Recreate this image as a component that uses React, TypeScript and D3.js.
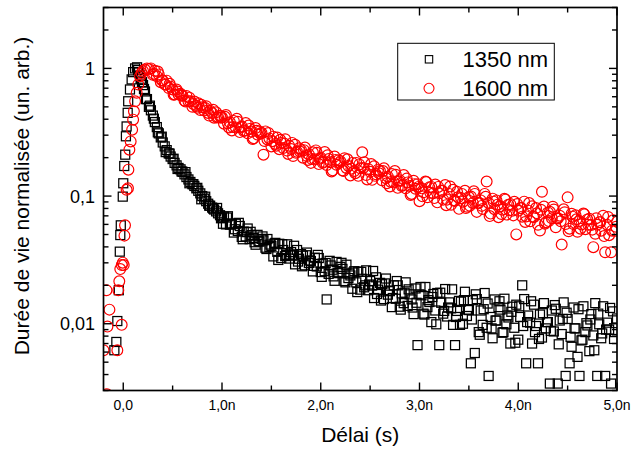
import React from "react";
import * as d3 from "d3";

// ---- data (delay in ns, normalised intensity) ----
const points1350: [number, number][] = [
  [-0.20,0.0021],[-0.18,0.0019],[-0.16,0.0024],[-0.14,0.0018],[-0.12,0.0026],[-0.10,0.0023],
  [-0.09,0.0062],[-0.07,0.0072],[-0.06,0.0105],[-0.045,0.0183],[-0.035,0.0367],[-0.03,0.0495],
  [-0.025,0.059],[-0.005,0.099],[0.0,0.126],[0.01,0.172],[0.02,0.211],[0.027,0.294],[0.034,0.351],
  [0.045,0.449],[0.05,0.553],[0.068,0.684],[0.085,0.82],[0.10,0.935],[0.12,1.0],[0.14,1.02],
  [0.15,0.97],[0.17,0.88],[0.19,0.78],[0.21,0.69],
  [0.16,0.93],[0.18,0.83],[0.20,0.74],[0.22,0.66],[0.24,0.575],[0.26,0.50],[0.28,0.47],[0.30,0.427],
  [0.32,0.38],[0.34,0.347],[0.36,0.31],[0.38,0.288],[0.40,0.263],[0.42,0.245],[0.44,0.229],[0.46,0.216],
  [0.48,0.204],[0.50,0.195],[0.52,0.182],[0.54,0.174],[0.56,0.166],[0.58,0.162],[0.60,0.155],[0.62,0.148],
  [0.64,0.141],[0.66,0.135],[0.68,0.129],[0.70,0.124],[0.72,0.12],[0.74,0.115],[0.76,0.11],[0.78,0.105],
  [0.80,0.1],[0.82,0.0955],[0.84,0.0912],[0.86,0.0871],[0.88,0.0841],[0.90,0.0813],[0.92,0.0785],
  [0.94,0.0759],[0.96,0.0733],[0.98,0.0708],[1.00,0.0676],
  [1.02,0.069],[1.04,0.060],[1.06,0.0695],[1.08,0.0597],[1.10,0.0603],[1.12,0.0518],[1.14,0.0607],
  [1.16,0.0533],[1.18,0.0583],[1.20,0.0479],[1.22,0.0527],[1.24,0.0483],[1.26,0.0557],[1.28,0.046],
  [1.30,0.0495],[1.32,0.047],[1.34,0.0416],[1.36,0.0497],[1.38,0.044],[1.40,0.0462],[1.42,0.045],
  [1.44,0.0394],[1.46,0.0461],[1.48,0.04],[1.50,0.0407],[1.52,0.0337],[1.54,0.043],[1.56,0.0366],
  [1.58,0.0423],[1.60,0.0327],[1.62,0.0378],[1.64,0.0339],[1.66,0.0419],[1.68,0.0324],[1.70,0.0364],
  [1.72,0.0342],[1.74,0.0292],[1.76,0.0378],[1.78,0.0323],[1.80,0.0351],[1.82,0.0341],[1.84,0.0287],
  [1.86,0.0361],[1.88,0.0299],[1.90,0.031],[1.92,0.0257],[1.94,0.0329],[1.96,0.0281],[1.98,0.0327],
  [2.00,0.0254],[2.02,0.0296],[2.04,0.0258],[2.06,0.0155],[2.08,0.0246],[2.10,0.0286],[2.12,0.0265],
  [2.14,0.0217],[2.16,0.0305],[2.18,0.0249],[2.20,0.0279],[2.22,0.0269],[2.24,0.0216],[2.26,0.029],
  [2.28,0.0228],[2.30,0.0239],[2.32,0.0188],[2.34,0.0258],[2.36,0.0211],[2.38,0.0256],[2.40,0.0185],
  [2.42,0.0225],[2.44,0.0193],[2.46,0.0262],[2.48,0.0183],[2.50,0.0216],[2.52,0.0199],[2.54,0.0159],
  [2.56,0.0231],[2.58,0.0185],[2.60,0.0209],[2.62,0.0204],[2.64,0.0156],[2.66,0.0226],[2.68,0.0169],
  [2.70,0.018],[2.72,0.0135],[2.74,0.02],[2.76,0.0157],[2.78,0.02],[2.80,0.0136],[2.82,0.0173],
  [2.84,0.0145],[2.86,0.0211],[2.88,0.0138],[2.90,0.017],[2.92,0.0155],[2.94,0.0119],[2.96,0.0189],
  [2.98,0.0068],[3.00,0.017],[3.02,0.0167],[3.04,0.012],[3.06,0.0194],[3.08,0.0135],[3.10,0.0148],
  [3.12,0.0103],[3.14,0.0171],[3.16,0.0127],[3.18,0.0174],[3.20,0.0068],[3.22,0.0146],[3.24,0.012],
  [3.26,0.0187],[3.28,0.0114],[3.30,0.0147],[3.32,0.0132],[3.34,0.0098],[3.36,0.0068],[3.38,0.0126],
  [3.40,0.0151],[3.42,0.0149],[3.44,0.01],[3.46,0.0178],[3.48,0.0115],[3.50,0.0128],[3.52,0.0049],
  [3.54,0.0153],[3.56,0.0059],[3.58,0.0156],[3.60,0.0086],[3.62,0.0127],[3.64,0.0098],[3.66,0.0174],
  [3.68,0.0093],[3.70,0.0039],[3.72,0.0113],[3.74,0.0077],[3.76,0.0155],[3.78,0.0106],[3.80,0.0135],
  [3.82,0.0129],[3.84,0.0085],[3.86,0.0157],[3.88,0.0099],[3.90,0.0112],[3.92,0.007],[3.94,0.0136],
  [3.96,0.0093],[3.98,0.0141],[4.00,0.0075],[4.02,0.0113],[4.04,0.02],[4.06,0.0156],[4.08,0.0049],
  [4.10,0.0116],[4.12,0.0102],[4.14,0.007],[4.16,0.0141],[4.18,0.0096],[4.20,0.0049],[4.22,0.0118],
  [4.24,0.0078],[4.26,0.0145],[4.28,0.0092],[4.30,0.0103],[4.32,0.0034],[4.34,0.0127],[4.36,0.0087],
  [4.38,0.0131],[4.40,0.0034],[4.42,0.0106],[4.44,0.0083],[4.46,0.0147],[4.48,0.0039],[4.50,0.0109],
  [4.52,0.0049],[4.54,0.0066],[4.56,0.0134],[4.58,0.0092],[4.60,0.0055],[4.62,0.0039],[4.64,0.0074],
  [4.66,0.0137],[4.68,0.0086],[4.70,0.0097],[4.72,0.0061],[4.74,0.0119],[4.76,0.0081],[4.78,0.0145],
  [4.80,0.0039],[4.82,0.0099],[4.84,0.0077],[4.86,0.0137],[4.88,0.0039],[4.90,0.0102],[4.92,0.009],
  [4.94,0.0034],[4.96,0.0125],[4.98,0.0086],[5.00,0.011]
];

// interleaved acquisitions (second pass) of the 1350 nm trace
const points1350Interleaved: [number, number][] = [
  [0.23,0.575],[0.27,0.511],[0.31,0.404],[0.35,0.316],[0.39,0.292],[0.43,0.221],[0.47,0.215],[0.51,0.196],
  [0.55,0.163],[0.59,0.156],[0.63,0.154],[0.67,0.126],[0.71,0.124],[0.75,0.116],[0.79,0.0944],[0.83,0.0989],
  [0.87,0.0841],[0.91,0.0798],[0.95,0.0807],[0.99,0.067],
  [1.01,0.0607],[1.05,0.0679],[1.09,0.0611],[1.13,0.055],[1.17,0.0617],[1.21,0.0459],[1.25,0.0522],
  [1.29,0.0525],[1.33,0.0435],[1.37,0.0443],[1.41,0.0483],[1.45,0.0385],[1.49,0.0417],[1.53,0.0424],
  [1.57,0.0316],[1.61,0.042],[1.65,0.0346],[1.69,0.0349],[1.73,0.0408],[1.77,0.0307],[1.81,0.0282],
  [1.85,0.0344],[1.89,0.0313],[1.93,0.0284],[1.97,0.0346],[2.01,0.0233],[2.05,0.0299],[2.09,0.0311],
  [2.13,0.0235],[2.17,0.0251],[2.21,0.03],[2.25,0.0211],[2.29,0.0247],[2.33,0.0252],[2.37,0.0177],
  [2.41,0.0255],[2.45,0.02],[2.49,0.0203],[2.53,0.0259],[2.57,0.0171],[2.61,0.0152],[2.65,0.0207],
  [2.69,0.0182],[2.73,0.0159],[2.77,0.0216],[2.81,0.0129],[2.85,0.0175],[2.89,0.0186],[2.93,0.0134],
  [2.97,0.0146],[3.01,0.0194],[3.05,0.0118],[3.09,0.0153],[3.13,0.0162],[3.17,0.0099],[3.21,0.0175],
  [3.25,0.0126],[3.29,0.0134],[3.33,0.0186],[3.37,0.0113],[3.41,0.0098],[3.45,0.0153],[3.49,0.0129],
  [3.53,0.0108],[3.57,0.017],[3.61,0.0082],[3.65,0.013],[3.69,0.0144],[3.73,0.0092],[3.77,0.0106],
  [3.81,0.015],[3.85,0.0086],[3.89,0.0116],[3.93,0.0124],[3.97,0.0071],[4.01,0.0137],[4.05,0.0096],
  [4.09,0.0103],[4.13,0.015],[4.17,0.0086],[4.21,0.0076],[4.25,0.0121],[4.29,0.0103],[4.33,0.0088],
  [4.37,0.014],[4.41,0.0069],[4.45,0.0109],[4.49,0.0122],[4.53,0.0079],[4.57,0.0092],[4.61,0.013],
  [4.65,0.0075],[4.69,0.0101],[4.73,0.0108],[4.77,0.0062],[4.81,0.012],[4.85,0.0084],[4.89,0.009],
  [4.93,0.0133],[4.97,0.0076]
];

const points1600: [number, number][] = [
  [-0.20,0.0062],[-0.18,0.0021],[-0.17,0.0183],[-0.165,0.0028],[-0.16,0.0095],[-0.14,0.0129],
  [-0.12,0.0024],[-0.10,0.0020],[-0.08,0.0026],[-0.06,0.0062],[-0.05,0.0183],[-0.04,0.0215],
  [-0.03,0.0268],[-0.016,0.0098],[-0.015,0.0288],[-0.005,0.0301],[0.005,0.0288],[0.012,0.049],
  [0.018,0.059],[0.034,0.112],[0.048,0.115],[0.052,0.161],[0.062,0.231],[0.075,0.268],[0.09,0.331],
  [0.10,0.397],[0.108,0.461],[0.12,0.553],[0.136,0.644],[0.152,0.748],[0.17,0.87],[0.185,0.92],
  [0.20,0.955],[0.22,0.98],[0.24,1.0],[0.26,0.99],[0.28,1.0],
  [0.30,0.891],[0.32,0.959],[0.34,0.869],[0.36,0.898],[0.38,0.78],[0.40,0.805],[0.42,0.75],[0.44,0.802],
  [0.46,0.702],[0.48,0.72],[0.50,0.684],[0.52,0.625],[0.54,0.684],[0.56,0.625],[0.58,0.634],[0.60,0.612],
  [0.62,0.56],[0.64,0.608],[0.66,0.552],[0.68,0.552],[0.70,0.501],[0.72,0.55],[0.74,0.507],[0.76,0.533],
  [0.78,0.472],[0.80,0.497],[0.82,0.468],[0.84,0.506],[0.86,0.448],[0.88,0.465],[0.90,0.447],[0.92,0.411],
  [0.94,0.453],[0.96,0.417],[0.98,0.426],[1.00,0.414],
  [1.02,0.369],[1.04,0.431],[1.06,0.372],[1.08,0.378],[1.10,0.327],[1.12,0.388],[1.14,0.345],[1.16,0.382],
  [1.18,0.317],[1.20,0.351],[1.22,0.323],[1.24,0.374],[1.26,0.31],[1.28,0.336],[1.30,0.32],[1.32,0.284],
  [1.34,0.341],[1.36,0.303],[1.38,0.321],[1.40,0.313],[1.42,0.211],[1.44,0.321],[1.46,0.278],[1.48,0.283],
  [1.50,0.245],[1.52,0.292],[1.54,0.256],[1.56,0.287],[1.58,0.233],[1.60,0.261],[1.62,0.238],[1.64,0.279],
  [1.66,0.227],[1.68,0.248],[1.70,0.234],[1.72,0.206],[1.74,0.252],[1.76,0.222],[1.78,0.237],[1.80,0.23],
  [1.82,0.2],[1.84,0.24],[1.86,0.206],[1.88,0.212],[1.90,0.182],[1.92,0.22],[1.94,0.194],[1.96,0.218],
  [1.98,0.178],[2.00,0.2],[2.02,0.182],[2.04,0.221],[2.06,0.175],[2.08,0.195],[2.10,0.184],[2.12,0.159],
  [2.14,0.204],[2.16,0.176],[2.18,0.191],[2.20,0.187],[2.22,0.159],[2.24,0.198],[2.26,0.166],[2.28,0.172],
  [2.30,0.145],[2.32,0.182],[2.34,0.157],[2.36,0.182],[2.38,0.144],[2.40,0.165],[2.42,0.22],[2.44,0.184],
  [2.46,0.146],[2.48,0.163],[2.50,0.155],[2.52,0.134],[2.54,0.171],[2.56,0.148],[2.58,0.161],[2.60,0.157],
  [2.62,0.133],[2.64,0.165],[2.66,0.138],[2.68,0.142],[2.70,0.119],[2.72,0.149],[2.74,0.128],[2.76,0.147],
  [2.78,0.116],[2.80,0.133],[2.82,0.12],[2.84,0.146],[2.86,0.115],[2.88,0.128],[2.90,0.12],[2.92,0.104],
  [2.94,0.132],[2.96,0.114],[2.98,0.124],[3.00,0.0912],[3.02,0.115],[3.04,0.107],[3.06,0.13],[3.08,0.0979],
  [3.10,0.117],[3.12,0.118],[3.14,0.105],[3.16,0.123],[3.18,0.0893],[3.20,0.105],[3.22,0.11],[3.24,0.0938],
  [3.26,0.122],[3.28,0.0938],[3.30,0.104],[3.32,0.0855],[3.34,0.112],[3.36,0.092],[3.38,0.108],[3.40,0.0794],
  [3.42,0.0964],[3.44,0.0904],[3.46,0.11],[3.48,0.0824],[3.50,0.0982],[3.52,0.0993],[3.54,0.0883],
  [3.56,0.104],[3.58,0.0752],[3.60,0.0881],[3.62,0.0925],[3.64,0.0792],[3.66,0.104],[3.68,0.13],
  [3.70,0.0883],[3.72,0.0729],[3.74,0.0955],[3.76,0.0789],[3.78,0.0925],[3.80,0.0684],[3.82,0.0832],
  [3.84,0.0782],[3.86,0.0951],[3.88,0.0716],[3.90,0.0855],[3.92,0.0865],[3.94,0.0769],[3.96,0.0902],
  [3.98,0.0501],[4.00,0.0767],[4.02,0.0805],[4.04,0.069],[4.06,0.0904],[4.08,0.0693],[4.10,0.0769],
  [4.12,0.0635],[4.14,0.0832],[4.16,0.0687],[4.18,0.0805],[4.20,0.0596],[4.22,0.0537],[4.24,0.108],
  [4.26,0.0828],[4.28,0.0624],[4.30,0.0745],[4.32,0.0753],[4.34,0.067],[4.36,0.0785],[4.38,0.057],
  [4.40,0.0668],[4.42,0.0702],[4.44,0.0417],[4.46,0.0787],[4.48,0.0604],[4.50,0.0977],[4.52,0.0555],
  [4.54,0.0728],[4.56,0.0603],[4.58,0.0708],[4.60,0.0525],[4.62,0.0638],[4.64,0.06],[4.66,0.073],
  [4.68,0.055],[4.70,0.0656],[4.72,0.0665],[4.74,0.0593],[4.76,0.0398],[4.78,0.0507],[4.80,0.0596],
  [4.82,0.0625],[4.84,0.0536],[4.86,0.0702],[4.88,0.0363],[4.90,0.0597],[4.92,0.0494],[4.94,0.0363],
  [4.96,0.0646],[4.98,0.0535],[5.00,0.0628]
];

// interleaved acquisitions (second pass) of the 1600 nm trace
const points1600Interleaved: [number, number][] = [
  [0.31,0.908],[0.35,0.944],[0.39,0.809],[0.43,0.746],[0.47,0.757],[0.51,0.622],[0.55,0.659],[0.59,0.614],
  [0.63,0.55],[0.67,0.59],[0.71,0.527],[0.75,0.492],[0.79,0.519],[0.83,0.489],[0.87,0.427],[0.91,0.475],
  [0.95,0.413],[0.99,0.41],[1.03,0.418],[1.07,0.345],[1.11,0.347],[1.15,0.403],[1.19,0.345],[1.23,0.327],
  [1.27,0.357],[1.31,0.28],[1.35,0.325],[1.39,0.308],[1.43,0.27],[1.47,0.312],[1.51,0.269],[1.55,0.248],
  [1.59,0.276],[1.63,0.258],[1.67,0.214],[1.71,0.261],[1.75,0.218],[1.79,0.223],[1.83,0.229],[1.87,0.192],
  [1.91,0.195],[1.95,0.228],[1.99,0.196],[2.03,0.185],[2.07,0.209],[2.11,0.156],[2.15,0.192],[2.19,0.182],
  [2.23,0.157],[2.27,0.194],[2.31,0.164],[2.35,0.151],[2.39,0.177],[2.43,0.166],[2.47,0.135],[2.51,0.178],
  [2.55,0.144],[2.59,0.151],[2.63,0.157],[2.67,0.126],[2.71,0.129],[2.75,0.157],[2.79,0.13],[2.83,0.122],
  [2.87,0.137],[2.91,0.102],[2.95,0.124],[2.99,0.118],[3.03,0.0995],[3.07,0.129],[3.11,0.106],[3.15,0.0964],
  [3.19,0.118],[3.23,0.11],[3.27,0.0849],[3.31,0.119],[3.35,0.092],[3.39,0.0979],[3.43,0.104],[3.47,0.0805],
  [3.51,0.0839],[3.55,0.109],[3.59,0.0883],[3.63,0.0838],[3.67,0.0986],[3.71,0.0697],[3.75,0.0904],
  [3.79,0.0857],[3.83,0.0723],[3.87,0.0938],[3.91,0.0774],[3.95,0.0706],[3.99,0.0865],[4.03,0.0805],
  [4.07,0.0627],[4.11,0.0881],[4.15,0.0686],[4.19,0.0733],[4.23,0.0782],[4.27,0.0608],[4.31,0.0637],
  [4.35,0.0826],[4.39,0.067],[4.43,0.0635],[4.47,0.0748],[4.51,0.053],[4.55,0.069],[4.59,0.0658],
  [4.63,0.0555],[4.67,0.0719],[4.71,0.0596],[4.75,0.0546],[4.79,0.0671],[4.83,0.0625],[4.87,0.0486],
  [4.91,0.0686],[4.95,0.0536],[4.99,0.0575]
];

const seriesNames = ["1350 nm", "1600 nm"];
const xMajorTicks = [0, 1, 2, 3, 4, 5];
const xTickLabels = ["0,0", "1,0n", "2,0n", "3,0n", "4,0n", "5,0n"];
const xMinorTicks = [0.5, 1.5, 2.5, 3.5, 4.5];
const yMajorTicks = [0.01, 0.1, 1];
const yTickLabels = ["0,01", "0,1", "1"];
const yMinorTicks = [0.003, 0.004, 0.005, 0.006, 0.007, 0.008, 0.009, 0.02, 0.03, 0.04, 0.05, 0.06, 0.07, 0.08, 0.09, 0.2, 0.3, 0.4, 0.5, 0.6, 0.7, 0.8, 0.9, 2, 3];
const xTitle = "Délai (s)";
const yTitle = "Durée de vie normalisée (un. arb.)";

export default function App() {
  const W = 632, H = 451;
  const L = 103.5, R = 617, T = 7.5, B = 390.5;
  const x = d3.scaleLinear().domain([-0.2, 5.0]).range([L, R]);
  const y = d3.scaleLog().domain([0.003, 3]).range([B, T]);
  const font = "Liberation Sans, Arial, sans-serif";
  const sq = 9;
  const majorLen = 8, minorLen = 5;
  const black = points1350.concat(points1350Interleaved);
  const red = points1600.concat(points1600Interleaved);
  return (
    <div style={{ position: "absolute", left: 0, top: 0 }}>
      <svg width={W} height={H} style={{ display: "block", background: "#fff" }}>
        <defs>
          <clipPath id="plotclip">
            <rect x={L} y={T} width={R - L} height={B - T} />
          </clipPath>
        </defs>
        <rect x={0} y={0} width={W} height={H} fill="#fff" />
        <g clipPath="url(#plotclip)">
          {black.map((p, i) => (
            <rect key={"b" + i} x={x(p[0]) - sq / 2} y={y(p[1]) - sq / 2} width={sq} height={sq}
              fill="none" stroke="#000" strokeWidth={1.25} />
          ))}
          {red.map((p, i) => (
            <circle key={"r" + i} cx={x(p[0])} cy={y(p[1])} r={5.4}
              fill="none" stroke="#ff0000" strokeWidth={1.2} />
          ))}
        </g>
        {/* ticks */}
        <g stroke="#000" strokeWidth={1.4}>
          {xMajorTicks.map((t) => (
            <g key={"xm" + t}>
              <line x1={x(t)} x2={x(t)} y1={B} y2={B - majorLen} />
              <line x1={x(t)} x2={x(t)} y1={T} y2={T + majorLen} />
            </g>
          ))}
          {xMinorTicks.map((t) => (
            <g key={"xn" + t}>
              <line x1={x(t)} x2={x(t)} y1={B} y2={B - minorLen} />
              <line x1={x(t)} x2={x(t)} y1={T} y2={T + minorLen} />
            </g>
          ))}
          {yMajorTicks.map((t) => (
            <g key={"ym" + t}>
              <line x1={L} x2={L + majorLen} y1={y(t)} y2={y(t)} />
              <line x1={R} x2={R - majorLen} y1={y(t)} y2={y(t)} />
            </g>
          ))}
          {yMinorTicks.map((t) => (
            <g key={"yn" + t}>
              <line x1={L} x2={L + minorLen} y1={y(t)} y2={y(t)} />
              <line x1={R} x2={R - minorLen} y1={y(t)} y2={y(t)} />
            </g>
          ))}
        </g>
        <rect x={L} y={T} width={R - L} height={B - T} fill="none" stroke="#000" strokeWidth={1.7} />
        {/* tick labels */}
        <g fontFamily={font} fontSize={14} fill="#000" textAnchor="middle">
          {xMajorTicks.map((t, i) => (
            <text key={"xl" + t} x={x(t)} y={410}>{xTickLabels[i]}</text>
          ))}
        </g>
        <g fontFamily={font} fontSize={18} fill="#000" textAnchor="end">
          {yMajorTicks.map((t, i) => (
            <text key={"yl" + t} x={95} y={y(t) + 6.5}>{yTickLabels[i]}</text>
          ))}
        </g>
        {/* axis titles */}
        <text x={(L + R) / 2} y={441.5} fontFamily={font} fontSize={21} textAnchor="middle">{xTitle}</text>
        <text transform={`translate(28.5,${(T + B) / 2 - 3}) rotate(-90)`} fontFamily={font} fontSize={21} textAnchor="middle">{yTitle}</text>
        {/* legend */}
        <rect x={397.7} y={43.3} width={156.6} height={56.7} fill="#fff" stroke="#000" strokeWidth={1} />
        <rect x={429 - 3.7} y={59.3 - 3.7} width={7.4} height={7.4} fill="none" stroke="#000" strokeWidth={1.1} />
        <circle cx={429} cy={88.3} r={5} fill="none" stroke="#ff0000" strokeWidth={1.1} />
        <text x={462.5} y={66.7} fontFamily={font} fontSize={22}>{seriesNames[0]}</text>
        <text x={462.5} y={95.7} fontFamily={font} fontSize={22}>{seriesNames[1]}</text>
      </svg>
    </div>
  );
}
